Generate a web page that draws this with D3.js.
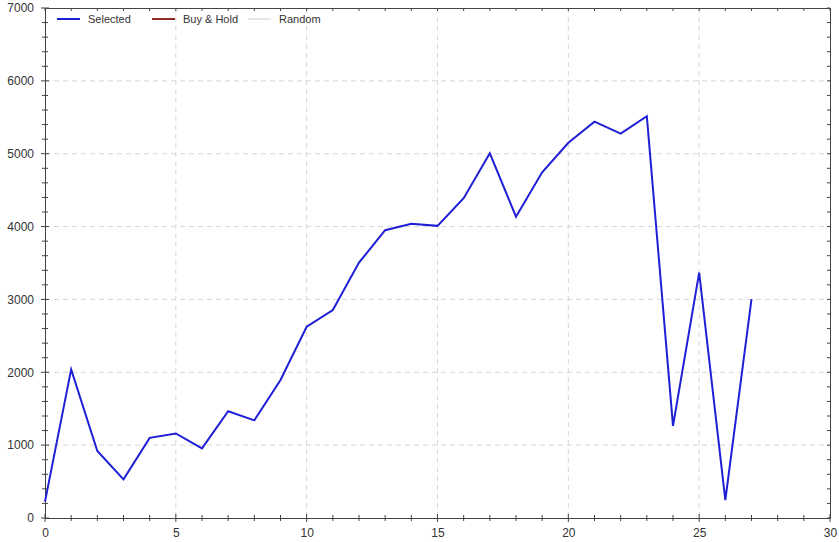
<!DOCTYPE html>
<html>
<head>
<meta charset="utf-8">
<script src="https://cdn.jsdelivr.net/npm/d3@7"></script>
<style>
  html, body { margin: 0; padding: 0; background: #fff; }
  svg { display: block; font-family: "Liberation Sans", Arial, sans-serif; }
</style>
</head>
<body>
<svg id="chart" width="839" height="542"></svg>
<script>
// ---- data ----
const periods = d3.range(0, 28);
const selected = [224, 2040, 920, 530, 1100, 1160, 955, 1465, 1340, 1895,
                  2625, 2855, 3505, 3950, 4040, 4010, 4390, 5005, 4135, 4745,
                  5150, 5440, 5275, 5515, 1265, 3367, 245, 3005];
const buyHold = [];   // listed in legend, not visible
const random = [];    // listed in legend, not visible
const xTicks = [0, 5, 10, 15, 20, 25, 30];
const yTicks = [0, 1000, 2000, 3000, 4000, 5000, 6000, 7000];
const legendItems = [
  { name: "Selected", color: "#1f1fd6" },
  { name: "Buy & Hold", color: "#8e2b22" },
  { name: "Random", color: "#e6e6e6" }
];

// ---- layout ----
const svg = d3.select("#chart");
const m = { left: 45, right: 830, top: 8, bottom: 518 };
const x = d3.scaleLinear().domain([0, 30]).range([m.left, m.right]);
const y = d3.scaleLinear().domain([0, 7000]).range([m.bottom, m.top]);

// grid
const grid = svg.append("g").attr("stroke", "#d6d6d6").attr("stroke-dasharray", "5,4").attr("stroke-width", 1);
xTicks.filter(t => t > 0 && t < 30).forEach(t => {
  grid.append("line").attr("x1", x(t)).attr("x2", x(t)).attr("y1", m.top).attr("y2", m.bottom);
});
yTicks.filter(t => t > 0 && t < 7000).forEach(t => {
  grid.append("line").attr("x1", m.left).attr("x2", m.right).attr("y1", y(t)).attr("y2", y(t));
});

// axes
const axisColor = "#444";
const xMinor = d3.range(0, 31, 1);
const yMinor = d3.range(0, 7001, 200);

// bottom axis
const gb = svg.append("g").attr("transform", `translate(0,${m.bottom})`)
  .call(d3.axisBottom(x).tickValues(xTicks).tickSize(0).tickPadding(10).tickFormat(d3.format("d")));
gb.select(".domain").attr("stroke", axisColor);
gb.selectAll("text").attr("fill", "#333").style("font-size", "12px");
xMinor.forEach(t => {
  const major = t % 5 === 0;
  gb.append("line").attr("x1", x(t)).attr("x2", x(t))
    .attr("y1", major ? -4 : -3).attr("y2", major ? 4 : 3).attr("stroke", axisColor);
});

// left axis
const gl = svg.append("g").attr("transform", `translate(${m.left},0)`)
  .call(d3.axisLeft(y).tickValues(yTicks).tickSize(0).tickPadding(11).tickFormat(d3.format("d")));
gl.select(".domain").attr("stroke", axisColor);
gl.selectAll("text").attr("fill", "#333").style("font-size", "12px");
yMinor.forEach(t => {
  const major = t % 1000 === 0;
  gl.append("line").attr("y1", y(t)).attr("y2", y(t))
    .attr("x1", major ? -4 : -3).attr("x2", major ? 4 : 3).attr("stroke", axisColor);
});

// top axis
const gt = svg.append("g").attr("transform", `translate(0,${m.top})`)
  .call(d3.axisTop(x).tickValues([]).tickSize(0));
gt.select(".domain").attr("stroke", axisColor);
xMinor.forEach(t => {
  gt.append("line").attr("x1", x(t)).attr("x2", x(t)).attr("y1", 0).attr("y2", 3).attr("stroke", axisColor);
});

// right axis
const gr = svg.append("g").attr("transform", `translate(${m.right},0)`)
  .call(d3.axisRight(y).tickValues([]).tickSize(0));
gr.select(".domain").attr("stroke", axisColor);
yMinor.forEach(t => {
  gr.append("line").attr("y1", y(t)).attr("y2", y(t)).attr("x1", -3).attr("x2", 0).attr("stroke", axisColor);
});

// line
const line = d3.line().x((d, i) => x(periods[i])).y(d => y(d));
svg.append("path").datum(selected)
  .attr("fill", "none").attr("stroke", legendItems[0].color)
  .attr("stroke-width", 2).attr("stroke-linejoin", "miter")
  .attr("d", line);

// legend
const legendX = [57, 152, 248];
const lg = svg.append("g");
legendItems.forEach((it, i) => {
  const g = lg.append("g").attr("transform", `translate(${legendX[i]},19)`);
  g.append("line").attr("x1", 0).attr("x2", 23).attr("y1", 0).attr("y2", 0)
    .attr("stroke", it.color).attr("stroke-width", 2);
  g.append("text").attr("x", 31).attr("y", 4).attr("fill", "#333")
    .style("font-size", "11px").text(it.name);
});
</script>
</body>
</html>
